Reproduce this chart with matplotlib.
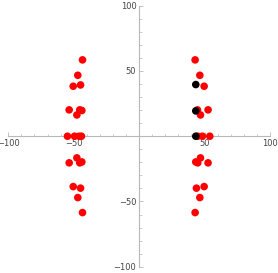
import matplotlib.pyplot as plt
from matplotlib.ticker import MultipleLocator

# red points (x, y)
red_x = [-43.3, -46.9, -50.4, -44.8, -53.5, -45.4, -43.8, -47.6,
         -54.8, -49.4, -45.9, -44.1,
         -47.6, -53.5, -45.4, -43.8, -50.4, -44.8, -46.9, -43.3,
         42.8, 46.4, 49.7, 44.6, 52.7, 46.9,
         44.8, 48.4, 54.0,
         46.9, 43.3, 44.8, 52.7, 49.7, 43.8, 46.4, 42.8]
red_y = [58.5, 46.7, 38.3, 39.3, 20.2, 20.2, 19.7, 16.3,
         0, 0, 0, 0,
         -16.6, -20.4, -20.4, -19.7, -38.6, -39.8, -47.0, -58.5,
         58.5, 46.7, 38.3, 20.2, 20.2, 16.3,
         0, 0, 0,
         -16.6, -19.7, -20.4, -20.4, -38.6, -39.8, -47.0, -58.5]

# black points
black_x = [43.3, 43.3, 43.3]
black_y = [39.6, 19.4, 0]

axis_grey = "#b8b8b8"
label_grey = "#444444"

fig = plt.figure(figsize=(2.78, 2.73), dpi=100)
ax = fig.add_axes([0.030, 0.023, 0.941, 0.956])

ax.scatter(red_x, red_y, s=30, color="red", edgecolors="none", zorder=3)
ax.scatter(black_x, black_y, s=30, color="black", edgecolors="none", zorder=4)

ax.set_xlim(-100, 100)
ax.set_ylim(-100, 100)

# Mathematica-like axes through the origin
for side in ("top", "right"):
    ax.spines[side].set_visible(False)
ax.spines["left"].set_position("zero")
ax.spines["bottom"].set_position("zero")
for side in ("left", "bottom"):
    ax.spines[side].set_color(axis_grey)
    ax.spines[side].set_linewidth(0.8)

ax.xaxis.set_major_locator(MultipleLocator(50))
ax.yaxis.set_major_locator(MultipleLocator(50))
ax.xaxis.set_minor_locator(MultipleLocator(10))
ax.yaxis.set_minor_locator(MultipleLocator(10))
ax.set_xticks([-100, -50, 50, 100])
ax.set_yticks([-100, -50, 50, 100])
ax.set_xticklabels(["\u2212100", "\u221250", "50", "100"])
ax.set_yticklabels(["\u2212100", "\u221250", "50", "100"])

ax.tick_params(which="major", length=3, width=0.6, color=axis_grey,
               labelsize=6, labelcolor=label_grey, direction="in", pad=2)
ax.tick_params(which="minor", length=1.8, width=0.5, color=axis_grey,
               direction="in")

fig.savefig("out.png", dpi=100)
